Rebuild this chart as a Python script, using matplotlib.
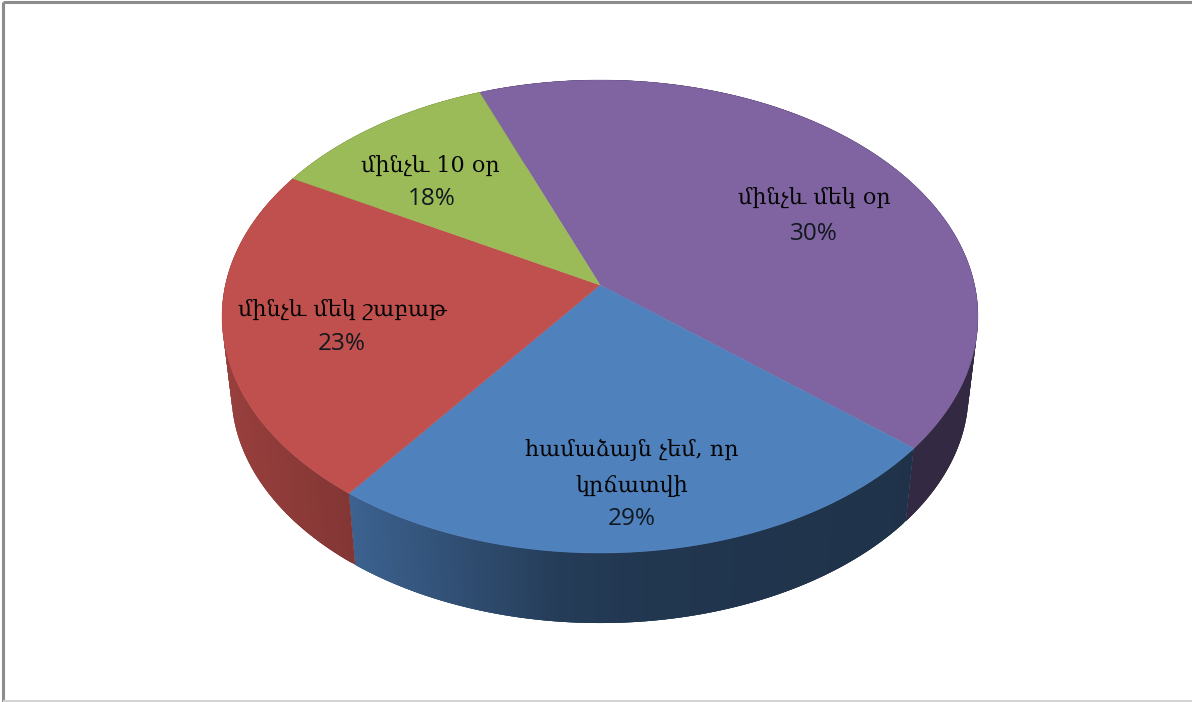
import numpy as np
import matplotlib
matplotlib.use("Agg")
import matplotlib.pyplot as plt
from matplotlib.collections import PolyCollection

# slice sizes as drawn (clockwise from the purple slice), the printed labels differ
categories = ["մինչև մեկ օր", "համաձայն չեմ, որ\nկրճատվի", "մինչև մեկ շաբաթ", "մինչև 10 օր"]
drawn_shares = [42.0, 24.1, 22.9, 11.0]
printed_percent = ["30%", "29%", "23%", "18%"]

colors = ["#8064a2", "#4f81bd", "#c0504d", "#9bbb59"]
start_angle = -21.2

# side wall shading per slice: screen x -> brightness
wall_x = [[600, 1000], [357, 560, 650, 907], [225, 357], [0, 1000]]
wall_shade = [[0.41, 0.41], [0.76, 0.47, 0.42, 0.39], [0.80, 0.68], [0.6, 0.6]]

label_pos = [(814, 198), (632, 468), (342, 310), (430, 166)]
pct_pos = [(814, 234), (632, 519), (342, 344), (432, 199)]

# perspective of the disc, in pixels
cx, cy = 600, 285
A, a, c = 374.6, 232.3, 0.1333
wall_scale, wall_y = 0.975, 361.7


def top_ring(theta):
    # theta in degrees, clockwise from the top
    t = np.radians(theta)
    x, y = np.sin(t), np.cos(t)
    d = 1 + c * y
    return cx + A * x / d, cy - a * y / d


fig = plt.figure(figsize=(11.92, 7.02), dpi=100)
ax = fig.add_axes([0, 0, 1, 1])
ax.set_xlim(0, 1192)
ax.set_ylim(702, 0)
ax.axis("off")

# chart frame
ax.plot([3, 3], [702, 2], color="#8c8c8c", lw=2.2, solid_capstyle="butt")
ax.plot([3, 1192], [2, 2], color="#8c8c8c", lw=2.2, solid_capstyle="butt")
ax.plot([3, 1192], [701, 701], color="#d4d4d4", lw=1.5, solid_capstyle="butt")

edges = start_angle + np.cumsum([0] + drawn_shares) * 3.6

# side wall first, the top surface covers the back part
for i, col in enumerate(colors):
    th = np.linspace(edges[i], edges[i + 1], 160)
    xt, yt = top_ring(th)
    xb = cx + (xt - cx) * wall_scale
    yb = wall_y + (yt - cy) * wall_scale
    polys, faces = [], []
    base = np.array(matplotlib.colors.to_rgb(col))
    for k in range(len(th) - 1):
        # each strip runs a bit into the next one so no seams show
        e = min(k + 3, len(th) - 1)
        polys.append(list(zip(xt[k:e + 1], yt[k:e + 1])) + list(zip(xb[k:e + 1][::-1], yb[k:e + 1][::-1])))
        faces.append(base * np.interp(xb[k], wall_x[i], wall_shade[i]))
    ax.add_collection(PolyCollection(polys, facecolors=faces, edgecolors="none", linewidths=0))

for i, col in enumerate(colors):
    th = np.linspace(edges[i], edges[i + 1], 200)
    xt, yt = top_ring(th)
    ax.fill(np.r_[cx, xt], np.r_[cy, yt], color=col, lw=0.3)

for name, pos, pct, ppos in zip(categories, label_pos, printed_percent, pct_pos):
    ax.text(pos[0], pos[1], name, ha="center", va="center", fontsize=16, family="DejaVu Serif",
            color="#050505", linespacing=1.8)
    ax.text(ppos[0], ppos[1], pct, ha="center", va="center", fontsize=17.5, family="Open Sans", color="#111820")

fig.savefig("out.png", dpi=100)
